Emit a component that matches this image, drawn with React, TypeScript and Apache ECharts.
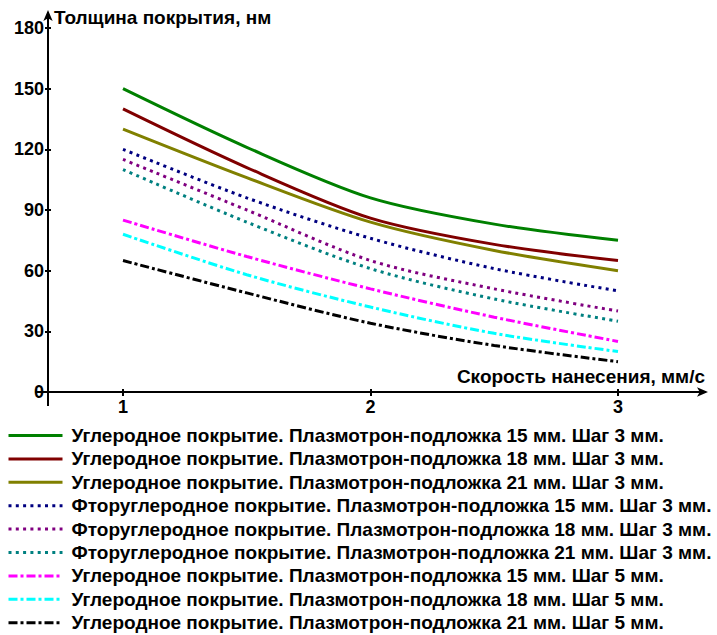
import React, { useEffect, useRef } from "react";
import * as echarts from "echarts";

const speeds = [1, 1.5, 2, 2.5, 3];
const yTicks = [0, 30, 60, 90, 120, 150, 180];
const xTicks = [1, 2, 3];

const carbon15s3 = [150, 121, 96, 83, 75];
const carbon18s3 = [140, 111, 86, 73, 65];
const carbon21s3 = [130, 106, 84, 70, 60];
const fluoro15s3 = [120, 96, 76, 61, 50];
const fluoro18s3 = [115, 90, 65, 51, 40];
const fluoro21s3 = [110, 84, 61, 46, 35];
const carbon15s5 = [85, 67, 51, 37, 25];
const carbon18s5 = [78, 58, 42, 29, 20];
const carbon21s5 = [65, 49, 34, 23, 15];

const seriesNames = [
  "Углеродное покрытие. Плазмотрон-подложка 15 мм. Шаг 3 мм.",
  "Углеродное покрытие. Плазмотрон-подложка 18 мм. Шаг 3 мм.",
  "Углеродное покрытие. Плазмотрон-подложка 21 мм. Шаг 3 мм.",
  "Фторуглеродное покрытие. Плазмотрон-подложка 15 мм. Шаг 3 мм.",
  "Фторуглеродное покрытие. Плазмотрон-подложка 18 мм. Шаг 3 мм.",
  "Фторуглеродное покрытие. Плазмотрон-подложка 21 мм. Шаг 3 мм.",
  "Углеродное покрытие. Плазмотрон-подложка 15 мм. Шаг 5 мм.",
  "Углеродное покрытие. Плазмотрон-подложка 18 мм. Шаг 5 мм.",
  "Углеродное покрытие. Плазмотрон-подложка 21 мм. Шаг 5 мм.",
];
const seriesValues = [
  carbon15s3, carbon18s3, carbon21s3,
  fluoro15s3, fluoro18s3, fluoro21s3,
  carbon15s5, carbon18s5, carbon21s5,
];
const colors = [
  "#008000", "#800000", "#808000",
  "#000080", "#800080", "#008080",
  "#ff00ff", "#00ffff", "#000000",
];
const dotted = [3, 4.3];
const dashDot = [9, 3, 3, 3];
const dashTypes: any[] = [
  "solid", "solid", "solid",
  dotted, dotted, dotted,
  dashDot, dashDot, dashDot,
];

const FONT = "Arial, 'Liberation Sans', sans-serif";

export default function App() {
  const ref = useRef<HTMLDivElement>(null);
  useEffect(() => {
    if (!ref.current) return;
    const chart = echarts.init(ref.current, undefined, { renderer: "svg" });
    const tickStyle = {
      color: "#000",
      fontFamily: FONT,
      fontWeight: "bold" as const,
      fontSize: 18,
    };
    const textStyle = {
      fill: "#000",
      fontFamily: FONT,
      fontWeight: "bold" as const,
      fontSize: 19,
    };
    const series = seriesNames.map((name, i) => ({
      name,
      type: "line",
      xAxisIndex: 0,
      yAxisIndex: 0,
      smooth: 0.3,
      symbol: "none",
      data: speeds.map((s, j) => [s, seriesValues[i][j]]),
      lineStyle: { color: colors[i], width: 3, type: dashTypes[i], cap: "butt" },
      itemStyle: { color: colors[i] },
    }));
    const axisArrow = {
      show: true,
      onZero: false,
      lineStyle: { color: "#000", width: 2 },
      symbol: ["none", "arrow"],
      symbolSize: [7, 11],
      symbolOffset: [0, 3],
    };
    const titles = [
      {
        type: "text",
        left: 54,
        top: 8,
        style: { text: "Толщина покрытия, нм", ...textStyle },
      },
      {
        type: "text",
        right: 12,
        top: 367,
        style: { text: "Скорость нанесения, мм/с", ...textStyle },
      },
    ];
    chart.setOption({
      animation: false,
      grid: { left: 48, right: 12, top: 13, bottom: 243, containLabel: false },
      xAxis: [
        {
          type: "value",
          min: 0.697,
          max: 3.3515,
          axisLine: axisArrow,
          axisTick: { show: true, length: 4, lineStyle: { color: "#000", width: 2 }, customValues: xTicks },
          axisLabel: { ...tickStyle, margin: 6, customValues: xTicks },
          splitLine: { show: false },
        },
        {
          type: "value",
          position: "bottom",
          min: 0.697,
          max: 3.3515,
          axisLine: { show: false },
          axisTick: { show: true, inside: true, length: 3, lineStyle: { color: "#000", width: 2 }, customValues: xTicks },
          axisLabel: { show: false },
          splitLine: { show: false },
        },
      ],
      yAxis: [
        {
          type: "value",
          min: 0,
          max: 187.4,
          axisLine: axisArrow,
          axisTick: { show: true, length: 3, lineStyle: { color: "#000", width: 2 }, customValues: yTicks },
          axisLabel: { ...tickStyle, margin: 4, customValues: yTicks },
          splitLine: { show: false },
        },
        {
          type: "value",
          position: "left",
          min: 0,
          max: 187.4,
          axisLine: { show: false },
          axisTick: { show: true, inside: true, length: 3, lineStyle: { color: "#000", width: 2 }, customValues: yTicks },
          axisLabel: { show: false },
          splitLine: { show: false },
        },
      ],
      legend: {
        orient: "vertical",
        left: 7,
        top: 426,
        padding: 0,
        itemWidth: 54,
        itemHeight: 14,
        itemGap: 4.4,
        itemStyle: { opacity: 0 },
        lineStyle: { width: 3 },
        textStyle: {
          color: "#000",
          fontFamily: FONT,
          fontWeight: "bold",
          fontSize: 19,
          padding: [0, 0, 0, 4],
        },
        data: seriesNames,
        selectedMode: false,
      },
      graphic: titles,
      series,
    });
    const origin = chart.convertToPixel({ gridIndex: 0 }, [0.697, 0]) as number[];
    chart.setOption({
      graphic: [
        ...titles,
        {
          type: "line",
          shape: { x1: origin[0] - 13, y1: origin[1], x2: origin[0], y2: origin[1] },
          style: { stroke: "#000", lineWidth: 2 },
        },
        {
          type: "line",
          shape: { x1: origin[0], y1: origin[1], x2: origin[0], y2: origin[1] + 14 },
          style: { stroke: "#000", lineWidth: 2 },
        },
      ],
    });
    return () => chart.dispose();
  }, []);
  return (
    <div
      ref={ref}
      style={{ position: "fixed", left: 0, top: 0, width: 717, height: 635, background: "#fff" }}
    />
  );
}
